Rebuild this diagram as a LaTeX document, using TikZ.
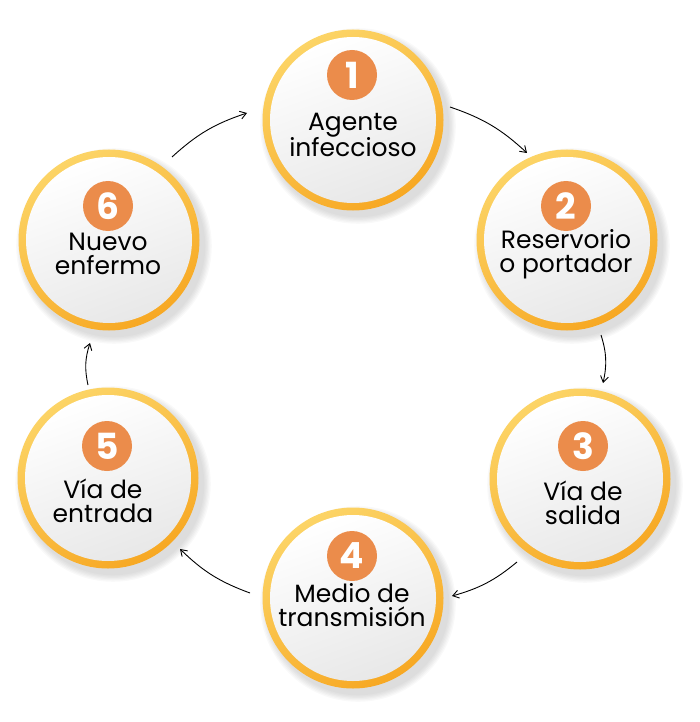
\documentclass[tikz,border=0pt]{standalone}
\usepackage{fontspec}
\setmainfont{Poppins}
\begin{document}
\begin{tikzpicture}[x=1pt,y=-1pt,
  ring/.style={circle,minimum size=181pt,inner sep=0pt,shading=axis,top color=ringA,bottom color=ringB,shading angle=30},
  inner/.style={circle,minimum size=166pt,inner sep=0pt,shading=axis,top color=white,bottom color=inB,shading angle=20},
  badge/.style={circle,fill=badgeC,minimum size=50pt,inner sep=0pt,text=white,font=\fontsize{36}{36}\selectfont\bfseries},
  lbl/.style={align=center,font=\fontsize{25}{24}\selectfont,text=black},
  arr/.style={->,>={Straight Barb[length=6pt,width=8pt]},line width=0.9pt}]
\usetikzlibrary{arrows.meta}
\definecolor{ringA}{HTML}{FCD466}
\definecolor{ringB}{HTML}{F7A823}
\definecolor{inB}{HTML}{E8E8E8}
\definecolor{badgeC}{HTML}{EB8C4B}
\useasboundingbox (0,0) rectangle (700,722);
\foreach \n/\x/\y in {1/353/120,2/567/240,3/580/479,4/353/598,5/108/478,6/109/240}{
  \foreach \k in {1,...,6}{\fill[black,opacity=0.025] (\x+5,\y+6) circle ({90+\k*1.3});}
  \node[ring] (r\n) at (\x,\y) {};
  \node[inner] (c\n) at (\x,\y) {};
}
\node[badge] (b1) at (352,75) {1};
\node[badge] (b2) at (566,206) {2};
\node[badge] (b3) at (583,446) {3};
\node[badge] (b4) at (352,556) {4};
\node[badge] (b5) at (107,446) {5};
\node[badge] (b6) at (108,206) {6};
\node[lbl] (t1) at (353,135) {Agente\\infeccioso};
\node[lbl] (t2) at (566,254) {Reservorio\\o portador};
\node[lbl] (t3) at (583,503) {Vía de\\salida};
\node[lbl] (t4) at (352,605) {Medio de\\transmisión};
\node[lbl] (t5) at (103,501) {Vía de\\entrada};
\node[lbl] (t6) at (108,254) {Nuevo\\enfermo};
\coordinate (a1s) at (450,107); \coordinate (a1e) at (527,153);
\coordinate (a2s) at (601,335); \coordinate (a2e) at (603,383);
\coordinate (a3s) at (517,562); \coordinate (a3e) at (452,596);
\coordinate (a4s) at (250,593); \coordinate (a4e) at (180,549);
\coordinate (a5s) at (88,385); \coordinate (a5e) at (90,343);
\coordinate (a6s) at (172,157); \coordinate (a6e) at (247,113);
\draw[arr] (a1s) to[bend left=12] (a1e);
\draw[arr] (a2s) to[bend left=15] (a2e);
\draw[arr] (a3s) to[bend left=12] (a3e);
\draw[arr] (a4s) to[bend left=12] (a4e);
\draw[arr] (a5s) to[bend left=15] (a5e);
\draw[arr] (a6s) to[bend left=12] (a6e);
\end{tikzpicture}
\end{document}
